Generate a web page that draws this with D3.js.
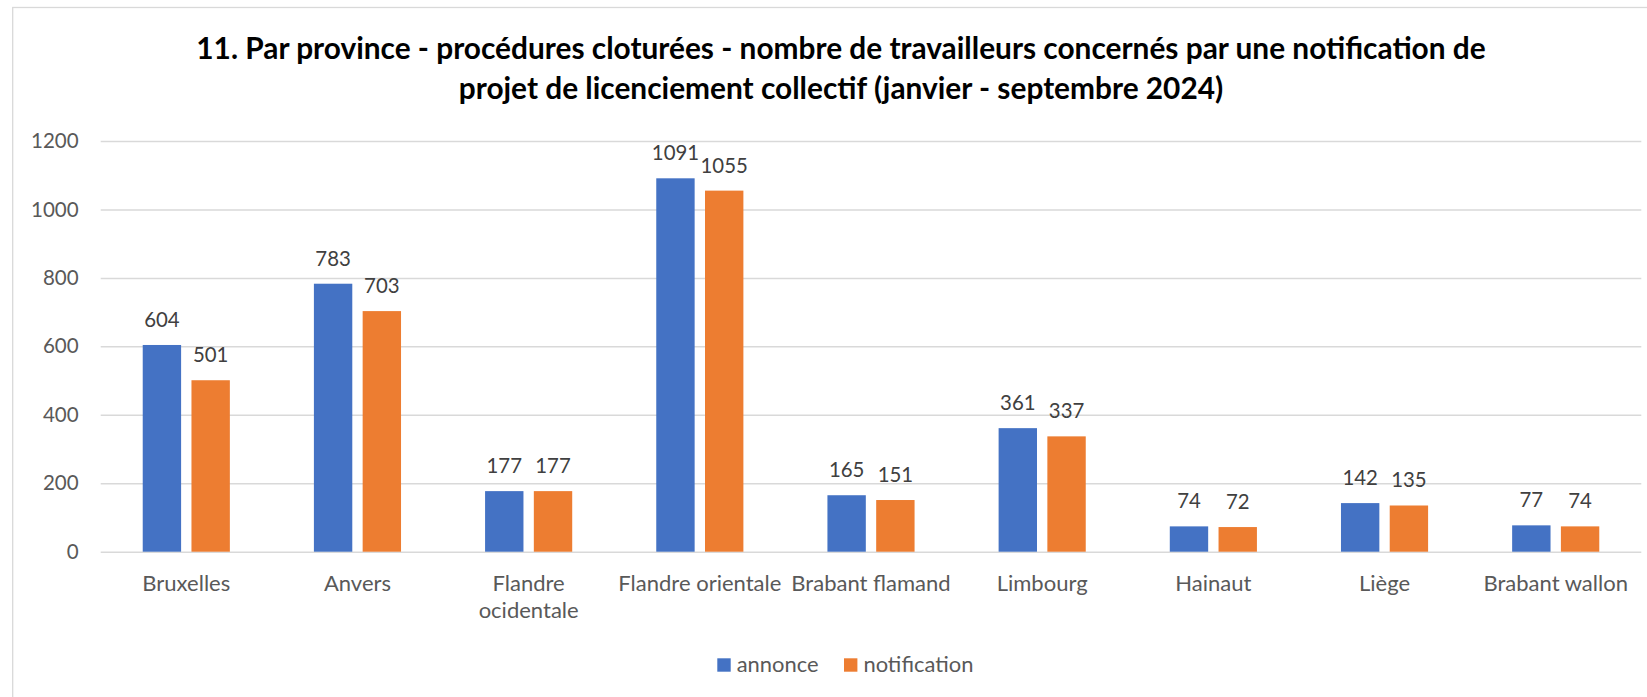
<!DOCTYPE html>
<html>
<head>
<meta charset="utf-8">
<script src="https://cdn.jsdelivr.net/npm/d3@7"></script>
<style>
  html, body { margin: 0; padding: 0; background: #fff; }
  svg { display: block; }
</style>
</head>
<body>
<div id="chart"></div>
<script>
// data
var categories = ['Bruxelles', 'Anvers', 'Flandre ocidentale', 'Flandre orientale',
  'Brabant flamand', 'Limbourg', 'Hainaut', 'Liège', 'Brabant wallon'];
var categoryLines = [['Bruxelles'], ['Anvers'], ['Flandre', 'ocidentale'], ['Flandre orientale'],
  ['Brabant flamand'], ['Limbourg'], ['Hainaut'], ['Liège'], ['Brabant wallon']];
var seriesNames = ['annonce', 'notification'];
var annonce = [604, 783, 177, 1091, 165, 361, 74, 142, 77];
var notification = [501, 703, 177, 1055, 151, 337, 72, 135, 74];
var yTicks = [0, 200, 400, 600, 800, 1000, 1200];
var titleLines = [
  '11. Par province - procédures cloturées - nombre de travailleurs concernés par une notification de',
  'projet de licenciement collectif (janvier - septembre 2024)'
];

var colors = { annonce: '#4472C4', notification: '#ED7D31' },
  FONT = 'Lato, "Open Sans", sans-serif',
  width = 1647,
  height = 697,
  plot = { left: 100.7, right: 1641.3, top: 141, bottom: 551.7 };

var svg = d3.select('#chart')
  .append('svg')
  .attr('width', width)
  .attr('height', height);

// pick font sizes so the substitute font spans the same width as the original text
function fit(text, weight, target) {
  var t = svg.append('text')
    .attr('font-family', FONT)
    .attr('font-weight', weight)
    .attr('font-size', 100)
    .text(text);
  var w = t.node().getComputedTextLength();
  t.remove();
  return 100 * target / w;
}
var titleSize = fit(titleLines[0], 'bold', 1290),
  catSize = fit('Bruxelles', 'normal', 88),
  tickSize = fit('1200', 'normal', 47.7),
  valueSize = fit('1055', 'normal', 47.3),
  legendSize = fit('notification', 'normal', 110);

// chart frame
svg.append('rect')
  .attr('x', 12.7)
  .attr('y', 7.5)
  .attr('width', 1700)
  .attr('height', 800)
  .style('fill', 'none')
  .style('stroke', '#d9d9d9')
  .style('stroke-width', 1.3);

var x0 = d3.scaleBand()
  .domain(categories)
  .range([plot.left, plot.right])
  .paddingInner(0.491)
  .paddingOuter(0.2455);

var x1 = d3.scaleBand()
  .domain(seriesNames)
  .range([0, x0.bandwidth()])
  .paddingInner(0.2126);

var y = d3.scaleLinear()
  .domain([0, 1200])
  .range([plot.bottom, plot.top]);

// gridlines + y labels
var yAxis = svg.append('g')
  .attr('transform', 'translate(' + plot.left + ',0)')
  .call(d3.axisLeft(y)
    .tickValues(yTicks)
    .tickSize(-(plot.right - plot.left))
    .tickPadding(22)
    .tickFormat(d3.format('d')));
yAxis.select('.domain').remove();
yAxis.selectAll('.tick line')
  .style('stroke', '#d9d9d9')
  .style('stroke-width', 1.5);
yAxis.selectAll('.tick text')
  .style('font-family', FONT)
  .style('font-size', tickSize + 'px')
  .style('fill', '#595959');

// x labels
var xAxis = svg.append('g')
  .attr('transform', 'translate(0,' + plot.bottom + ')')
  .call(d3.axisBottom(x0).tickSize(0).tickFormat(''));
xAxis.select('.domain').remove();
xAxis.selectAll('.tick').each(function (d, i) {
  var t = d3.select(this).append('text')
    .style('font-family', FONT)
    .style('font-size', catSize + 'px')
    .style('fill', '#595959')
    .attr('text-anchor', 'middle');
  categoryLines[i].forEach(function (line, j) {
    t.append('tspan')
      .attr('x', 0)
      .attr('y', 39 + j * 27.6)
      .text(line);
  });
});

var rows = categories.map(function (c, i) {
  return { category: c, values: [
    { key: 'annonce', value: annonce[i] },
    { key: 'notification', value: notification[i] }
  ] };
});

var groups = svg.append('g')
  .selectAll('g')
  .data(rows)
  .enter()
  .append('g')
  .attr('transform', function (d) { return 'translate(' + x0(d.category) + ',0)'; });

groups.selectAll('rect')
  .data(function (d) { return d.values; })
  .enter()
  .append('rect')
  .attr('x', function (d) { return x1(d.key); })
  .attr('y', function (d) { return y(d.value); })
  .attr('width', x1.bandwidth())
  .attr('height', function (d) { return y(0) - y(d.value); })
  .style('fill', function (d) { return colors[d.key]; });

groups.selectAll('text.value')
  .data(function (d) { return d.values; })
  .enter()
  .append('text')
  .attr('class', 'value')
  .attr('x', function (d) { return x1(d.key) + x1.bandwidth() / 2; })
  .attr('y', function (d) { return y(d.value) - 18; })
  .attr('text-anchor', 'middle')
  .style('font-family', FONT)
  .style('font-size', valueSize + 'px')
  .style('fill', '#404040')
  .text(function (d) { return d.value; });

// title
svg.append('text')
  .attr('text-anchor', 'middle')
  .style('font-family', FONT)
  .style('font-weight', 'bold')
  .style('font-size', titleSize + 'px')
  .style('fill', '#000')
  .selectAll('tspan')
  .data(titleLines)
  .enter()
  .append('tspan')
  .attr('x', 841)
  .attr('y', function (d, i) { return 59.3 + i * 39.7; })
  .text(function (d) { return d; });

// legend
var legendX = [717.3, 844];
var legend = svg.append('g')
  .selectAll('g')
  .data(seriesNames)
  .enter()
  .append('g')
  .attr('transform', function (d, i) { return 'translate(' + legendX[i] + ',658.3)'; });
legend.append('rect')
  .attr('width', 13.4)
  .attr('height', 13.4)
  .style('fill', function (d) { return colors[d]; });
legend.append('text')
  .attr('x', 19.4)
  .attr('y', 13.4)
  .style('font-family', FONT)
  .style('font-size', legendSize + 'px')
  .style('fill', '#595959')
  .text(function (d) { return d; });
</script>
</body>
</html>
